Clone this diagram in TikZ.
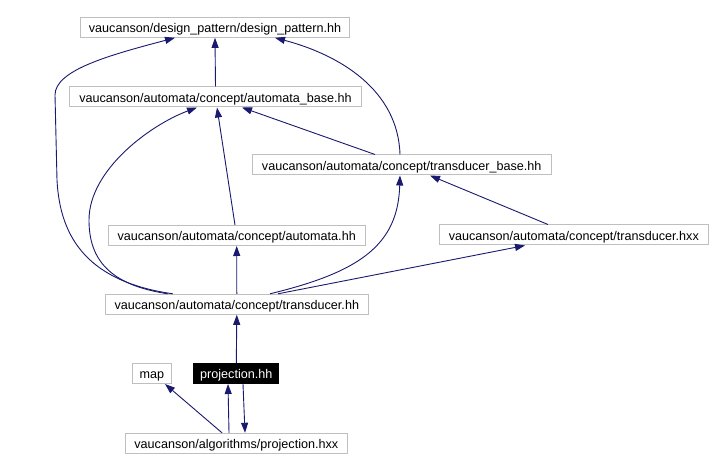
\documentclass[tikz,border=0pt]{standalone}
\usepackage{fontspec}
\setmainfont{Liberation Sans}
\usetikzlibrary{arrows.meta}
\definecolor{edgeblue}{HTML}{191970}
\definecolor{boxgray}{HTML}{BFBFBF}
\begin{document}
\begin{tikzpicture}[x=1bp,y=-1bp,
  filebox/.style={draw=boxgray, line width=1bp, fill=white, inner sep=0pt,
    minimum height=20bp, text height=10.5bp, text depth=0bp,
    font=\fontsize{12.6bp}{14bp}\selectfont, text=black},
  curfile/.style={draw=black, line width=1bp, fill=black, inner sep=0pt,
    minimum height=20bp, text height=10.5bp, text depth=0bp,
    font=\fontsize{12.6bp}{14bp}\selectfont, text=white},
  dep/.style={draw=edgeblue, line width=0.9bp, -{Triangle[length=10bp,width=7bp]}, edgeblue}]
\fill[white] (0,0) rectangle (713,470);
\useasboundingbox (0,0) rectangle (713,470);

\node[filebox, minimum width=269bp] (dp) at (215,27.3) {vaucanson/design\_pattern/design\_pattern.hh};
\node[filebox, minimum width=292bp] (ab) at (215.5,97) {vaucanson/automata/concept/automata\_base.hh};
\node[filebox, minimum width=299bp] (tb) at (401.7,165) {vaucanson/automata/concept/transducer\_base.hh};
\node[filebox, minimum width=257bp] (am) at (236.7,235.5) {vaucanson/automata/concept/automata.hh};
\node[filebox, minimum width=269bp] (thxx) at (573.8,235) {vaucanson/automata/concept/transducer.hxx};
\node[filebox, minimum width=263bp] (thh) at (236.8,304.3) {vaucanson/automata/concept/transducer.hh};
\node[filebox, minimum width=39bp] (map) at (151.8,373.5) {map};
\node[curfile, minimum width=84.7bp] (ph) at (236.3,373.5) {projection.hh};
\node[filebox, minimum width=222bp] (hxx) at (236.3,443.3) {vaucanson/algorithms/projection.hxx};

% edges
\draw[dep] (ab.north) -- (dp.south);
\draw[dep] ([xshift=-64bp]thh.north) .. controls (90,282) and (60,240) .. (57,180)
  -- (55,95) .. controls (55,70) and (110,55) .. ([xshift=-40bp]dp.south);
\draw[dep] ([xshift=-1.7bp]tb.north) .. controls (398,90) and (340,55) .. ([xshift=60bp]dp.south);
\draw[dep] ([xshift=-1.7bp]am.north) -- ([xshift=1.5bp]ab.south);
\draw[dep] ([xshift=-69bp]thh.north) .. controls (110,285) and (89,260) .. (89,220)
  .. controls (89,170) and (150,125) .. ([xshift=-18.5bp]ab.south);
\draw[dep] ([xshift=-26.7bp]tb.north) -- ([xshift=26.5bp]ab.south);
\draw[dep] ([xshift=-25.8bp]thxx.north) -- ([xshift=28.3bp]tb.south);
\draw[dep] ([xshift=33.2bp]thh.north) .. controls (360,272) and (398,245) .. ([xshift=-1.7bp]tb.south);
\draw[dep] ([xshift=41.2bp]thh.north) -- ([xshift=-48.8bp]thxx.south);
\draw[dep] (thh.north) -- (am.south);
\draw[dep] (ph.north) -- (thh.south);
\draw[dep] ([xshift=-14.3bp]hxx.north) -- ([xshift=13.2bp]map.south);
\draw[dep] ([xshift=-7.3bp]hxx.north) -- ([xshift=-8.3bp]ph.south);
\draw[dep] ([xshift=6.7bp]ph.south) -- ([xshift=8.7bp]hxx.north);
\end{tikzpicture}
\end{document}
